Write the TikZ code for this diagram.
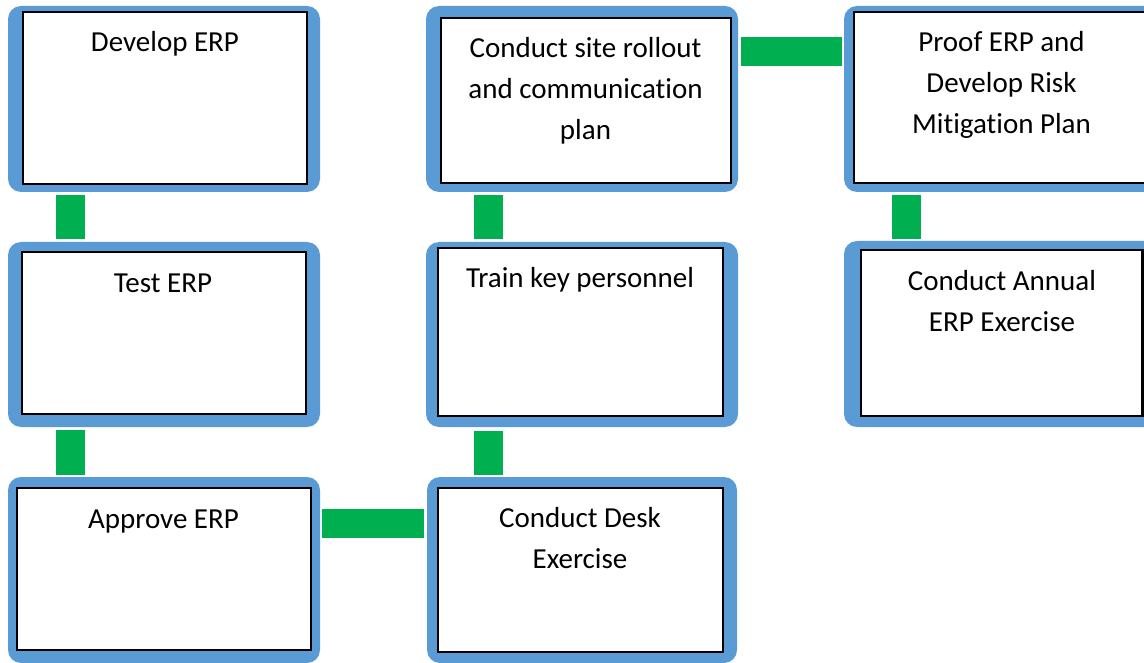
\documentclass[tikz,border=0pt]{standalone}
\usepackage{fontspec}
\setmainfont[Ligatures=NoCommon,RawFeature={-liga;-calt;-clig}]{Carlito}
\usetikzlibrary{calc}
\definecolor{frameblue}{HTML}{5B9BD5}
\definecolor{conngreen}{HTML}{00B050}
\begin{document}
\begin{tikzpicture}[x=1pt,y=-1pt,
  outer/.style={draw=none,fill=frameblue,rounded corners=13pt,inner sep=0pt,minimum width=312pt,minimum height=186pt},
  innerbox/.style={draw=black,fill=white,line width=2.5pt},
  lbl/.style={font=\fontsize{29}{41}\selectfont,align=center,anchor=base,inner sep=0pt},
  conn/.style={draw=conngreen,line width=29pt,line cap=butt}]
\useasboundingbox (0,0) rectangle (1144,663);
\clip (0,0) rectangle (1144,663);
\fill[white] (0,0) rectangle (1144,663);

% outer frames
\node[outer] (B1) at (164,99) {};
\node[outer,minimum height=185pt] (B2) at (164,334.5) {};
\node[outer] (B3) at (164,570) {};
\node[outer] (C1) at (582,99) {};
\node[outer,minimum height=185pt] (C2) at (582,334.5) {};
\node[outer,minimum width=310pt] (C3) at (582,570) {};
\node[outer,minimum width=320pt] (D1) at (1004,99) {};
\node[outer,minimum width=320pt] (D2) at (1004,334) {};

% inner boxes
\draw[innerbox] (23,12) rectangle (307,184);
\draw[innerbox] (22,252) rectangle (306,414);
\draw[innerbox] (17,488) rectangle (311,650);
\draw[innerbox] (441,18) rectangle (731,183);
\draw[innerbox] (438,248) rectangle (723,416);
\draw[innerbox] (438,488) rectangle (723,652);
\draw[innerbox] (854,12) rectangle (1160,183);
\draw[innerbox] (861,250) rectangle (1142.5,416);

% labels (base anchor = baseline of the last line)
\node[lbl] (tB1) at (165,51.5) {Develop ERP};
\node[lbl] (tB2) at (163,292.5) {Test ERP};
\node[lbl] (tB3) at (163.5,528.5) {Approve ERP};
\node[lbl] (tC1) at (585.5,139.5) {Conduct site rollout\\and communication\\plan};
\node[lbl] (tC2) at (580,287.5) {Train key personnel};
\node[lbl] (tC3) at (580,568.5) {Conduct Desk\\Exercise};
\node[lbl] (tD1) at (1001.5,134) {Proof ERP and\\Develop Risk\\Mitigation Plan};
\node[lbl] (tD2) at (1002,331) {Conduct Annual\\ERP Exercise};

% connectors
\draw[conn] ($(B1.south west)+(62.5,3)$) -- ($(B2.north west)+(62.5,-3)$);
\draw[conn] ($(B2.south west)+(62.5,3)$) -- ($(B3.north west)+(62.5,-2)$);
\draw[conn] ($(B3.north east)+(2,46.5)$) -- ($(C3.north west)+(-3,46.5)$);
\draw[conn] ($(C3.north west)+(61.5,-2)$) -- ($(C2.south west)+(62.5,4)$);
\draw[conn] ($(C2.north west)+(62.5,-3)$) -- ($(C1.south west)+(62.5,3)$);
\draw[conn] ($(C1.north east)+(3,45.5)$) -- ($(D1.north west)+(-2,45.5)$);
\draw[conn] ($(D1.south west)+(63,3)$) -- ($(D2.north west)+(63,-2)$);
\end{tikzpicture}
\end{document}
